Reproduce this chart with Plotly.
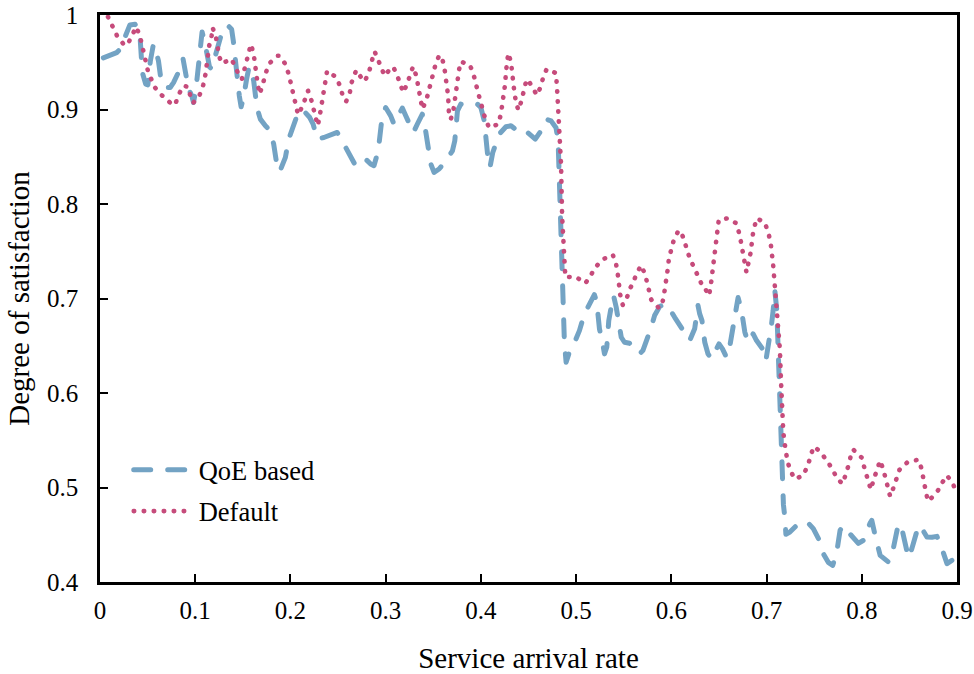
import plotly.graph_objects as go

# ---- data ----
qoe_x = [0.0035, 0.0122, 0.0175, 0.0211, 0.0245, 0.0284, 0.0314, 0.0368, 0.0396, 0.0421,
         0.0432, 0.0445, 0.048, 0.0503, 0.0529, 0.0561, 0.0585, 0.0614, 0.0642, 0.0684,
         0.0737, 0.0772, 0.0817, 0.0842, 0.0872, 0.0901, 0.0929, 0.0964, 0.0982, 0.1008,
         0.1029, 0.1051, 0.1072, 0.1101, 0.1122, 0.115, 0.1172, 0.1206, 0.1235, 0.1266,
         0.1295, 0.1347, 0.1382, 0.14, 0.1421, 0.1438, 0.1463, 0.1482, 0.1508, 0.154,
         0.1566, 0.1593, 0.1614, 0.1648, 0.1684, 0.1737, 0.1789, 0.1824, 0.1859, 0.1887,
         0.1947, 0.1982, 0.2027, 0.2087, 0.214, 0.2203, 0.2238, 0.228, 0.2351, 0.2438,
         0.2491, 0.2533, 0.2579, 0.2632, 0.2684, 0.2737, 0.2789, 0.2842, 0.2877, 0.2922,
         0.2947, 0.2964, 0.3, 0.3053, 0.3087, 0.314, 0.3175, 0.3211, 0.3245, 0.3291,
         0.3333, 0.3368, 0.3385, 0.3414, 0.3448, 0.3474, 0.3508, 0.3561, 0.3632, 0.3701,
         0.3726, 0.3754, 0.3789, 0.3877, 0.3964, 0.4, 0.4035, 0.4053, 0.4061, 0.4077,
         0.4095, 0.4124, 0.4193, 0.4263, 0.4316, 0.4382, 0.4445, 0.4508, 0.4571, 0.4632,
         0.4684, 0.4737, 0.4789, 0.4811, 0.4819, 0.4832, 0.4842, 0.4853, 0.4859, 0.4869,
         0.4877, 0.4895, 0.4929, 0.4992, 0.5035, 0.5087, 0.5122, 0.5158, 0.5192, 0.5217,
         0.5245, 0.5274, 0.5298, 0.5322, 0.5343, 0.5368, 0.5393, 0.5421, 0.5456, 0.5474,
         0.5508, 0.5561, 0.5614, 0.5666, 0.5701, 0.5737, 0.5789, 0.5824, 0.5877, 0.5929,
         0.5982, 0.6035, 0.6087, 0.614, 0.6193, 0.6245, 0.628, 0.6298, 0.6322, 0.6351,
         0.6385, 0.6421, 0.6466, 0.6501, 0.6537, 0.6579, 0.6606, 0.6648, 0.6674, 0.6701,
         0.6737, 0.6772, 0.6806, 0.6859, 0.6895, 0.6929, 0.6958, 0.6993, 0.7017, 0.7053,
         0.7069, 0.7087, 0.7108, 0.7119, 0.7129, 0.714, 0.7147, 0.7158, 0.7168, 0.7175,
         0.7177, 0.7193, 0.7203, 0.7245, 0.7316, 0.7385, 0.7438, 0.7491, 0.7526, 0.7551,
         0.7596, 0.7648, 0.7695, 0.7719, 0.7737, 0.7772, 0.7806, 0.7859, 0.7912, 0.7964,
         0.8017, 0.8053, 0.8087, 0.8105, 0.8122, 0.814, 0.8193, 0.8245, 0.828, 0.8316,
         0.8333, 0.8385, 0.8421, 0.8438, 0.849, 0.8526, 0.8543, 0.8596, 0.8632, 0.8684,
         0.8737, 0.8789, 0.8824, 0.8859, 0.8895, 0.8947, 0.9]
qoe_y = [0.9546, 0.9575, 0.9602, 0.9638, 0.9726, 0.985, 0.9895, 0.9903, 0.985, 0.9761,
         0.9515, 0.9391, 0.9268, 0.9261, 0.9515, 0.9691, 0.9628, 0.9515, 0.9303, 0.9233,
         0.9233, 0.9285, 0.938, 0.9409, 0.9536, 0.9374, 0.922, 0.9145, 0.9074, 0.922,
         0.9451, 0.9599, 0.9821, 0.9708, 0.962, 0.9451, 0.943, 0.955, 0.9673, 0.9797,
         0.9867, 0.9885, 0.985, 0.9726, 0.9497, 0.9356, 0.9145, 0.9028, 0.9127, 0.9324,
         0.9451, 0.9388, 0.9303, 0.9021, 0.8898, 0.8828, 0.8775, 0.8634, 0.8405, 0.8341,
         0.8493, 0.8687, 0.8828, 0.8986, 0.8986, 0.8915, 0.8846, 0.8687, 0.8704, 0.8746,
         0.8757, 0.8687, 0.8598, 0.8493, 0.8405, 0.844, 0.8476, 0.8423, 0.8405, 0.8563,
         0.8782, 0.8933, 0.9021, 0.8933, 0.8846, 0.8951, 0.9015, 0.8933, 0.8863, 0.8757,
         0.8846, 0.8933, 0.8951, 0.881, 0.86, 0.8423, 0.8334, 0.837, 0.8458, 0.8563,
         0.8669, 0.8986, 0.9057, 0.9039, 0.9057, 0.9021, 0.8881, 0.8704, 0.8563, 0.8458,
         0.8387, 0.8542, 0.874, 0.8817, 0.8828, 0.8775, 0.8796, 0.8733, 0.8687, 0.8775,
         0.8898, 0.888, 0.8807, 0.8669, 0.8405, 0.8035, 0.7665, 0.7277, 0.6907, 0.6748,
         0.6537, 0.6326, 0.6431, 0.6555, 0.666, 0.6837, 0.6907, 0.6978, 0.7041, 0.696,
         0.6679, 0.6555, 0.6414, 0.6484, 0.6766, 0.6907, 0.7031, 0.6907, 0.6679, 0.659,
         0.6537, 0.6526, 0.6484, 0.6414, 0.6449, 0.6537, 0.6695, 0.6819, 0.6914, 0.6943,
         0.689, 0.6801, 0.6713, 0.6626, 0.6555, 0.6679, 0.6925, 0.6837, 0.6766, 0.6537,
         0.6414, 0.6362, 0.6467, 0.652, 0.6467, 0.6378, 0.6449, 0.6695, 0.6837, 0.701,
         0.6872, 0.6643, 0.6537, 0.6626, 0.6555, 0.6502, 0.6467, 0.6343, 0.6484, 0.6731,
         0.6872, 0.7083, 0.6872, 0.6555, 0.6238, 0.5952, 0.5572, 0.5413, 0.5202, 0.5022,
         0.4821, 0.4673, 0.4504, 0.4528, 0.4599, 0.4645, 0.4624, 0.4564, 0.4494, 0.4448,
         0.43, 0.4208, 0.4176, 0.4247, 0.4317, 0.4547, 0.4599, 0.4528, 0.4462, 0.4409,
         0.4441, 0.4547, 0.4624, 0.4652, 0.4564, 0.4494, 0.4282, 0.4229, 0.4211, 0.4282,
         0.437, 0.4617, 0.4564, 0.4473, 0.4256, 0.4353, 0.442, 0.4599, 0.4564, 0.4476,
         0.4473, 0.4483, 0.4406, 0.4317, 0.4194, 0.4229, 0.4324]

default_x = [0.0084, 0.0126, 0.0179, 0.0245, 0.0287, 0.0333, 0.0382, 0.0421, 0.0445, 0.0463,
             0.0508, 0.0551, 0.0579, 0.0648, 0.0684, 0.0761, 0.0789, 0.0824, 0.0874, 0.0926,
             0.0951, 0.0979, 0.1045, 0.1084, 0.1108, 0.1119, 0.1137, 0.1147, 0.1172, 0.1182,
             0.1217, 0.1232, 0.1253, 0.128, 0.1379, 0.1427, 0.1469, 0.149, 0.1516, 0.1537,
             0.1561, 0.1585, 0.1614, 0.1632, 0.1642, 0.1656, 0.1677, 0.1701, 0.1726, 0.1761,
             0.1789, 0.1866, 0.1887, 0.1947, 0.1982, 0.2006, 0.2027, 0.2045, 0.208, 0.2129,
             0.2175, 0.2185, 0.2221, 0.2245, 0.2263, 0.2287, 0.2308, 0.2326, 0.234, 0.2351,
             0.2368, 0.2385, 0.2474, 0.2491, 0.2526, 0.2554, 0.2585, 0.2624, 0.2642, 0.2674,
             0.2691, 0.2743, 0.2779, 0.2824, 0.2845, 0.2869, 0.2884, 0.2922, 0.2954, 0.2989,
             0.3053, 0.308, 0.3129, 0.3158, 0.3185, 0.3227, 0.3256, 0.3287, 0.3322, 0.334,
             0.3351, 0.3375, 0.3385, 0.3427, 0.3456, 0.3474, 0.3498, 0.3526, 0.3561, 0.3585,
             0.3614, 0.3632, 0.3642, 0.3656, 0.3666, 0.3684, 0.3712, 0.3726, 0.3737, 0.3754,
             0.3772, 0.3789, 0.3884, 0.3922, 0.3954, 0.3975, 0.3989, 0.4017, 0.4045, 0.4087,
             0.4185, 0.4211, 0.4227, 0.4238, 0.4256, 0.4262, 0.427, 0.4287, 0.4316, 0.4326,
             0.434, 0.4351, 0.4368, 0.4393, 0.4424, 0.4445, 0.4474, 0.4491, 0.4543, 0.4589,
             0.4632, 0.4656, 0.4691, 0.4789, 0.4803, 0.4817, 0.4832, 0.4842, 0.4853, 0.4869,
             0.4887, 0.4992, 0.5097, 0.5158, 0.5192, 0.5256, 0.5291, 0.5385, 0.5421, 0.5438,
             0.5448, 0.5463, 0.549, 0.5537, 0.5572, 0.5596, 0.5632, 0.5684, 0.5726, 0.5747,
             0.5772, 0.5789, 0.5863, 0.5895, 0.5919, 0.5937, 0.5954, 0.5964, 0.5975, 0.6,
             0.6024, 0.6069, 0.6098, 0.6133, 0.6164, 0.6193, 0.6238, 0.628, 0.6298, 0.6333,
             0.6351, 0.6396, 0.6414, 0.6427, 0.6438, 0.6448, 0.6463, 0.6474, 0.6498, 0.6589,
             0.6684, 0.6719, 0.6737, 0.6754, 0.6772, 0.6789, 0.6832, 0.6848, 0.6859, 0.6895,
             0.6982, 0.7024, 0.7045, 0.7069, 0.7087, 0.7105, 0.7122, 0.714, 0.7151, 0.7158,
             0.7164, 0.7175, 0.7185, 0.72, 0.7217, 0.7245, 0.7298, 0.7385, 0.7438, 0.7466,
             0.7498, 0.7568, 0.7596, 0.7656, 0.7701, 0.7747, 0.78, 0.7832, 0.7866, 0.7895,
             0.7912, 0.7975, 0.8, 0.8027, 0.8053, 0.8077, 0.8095, 0.8122, 0.8158, 0.8193,
             0.8227, 0.8256, 0.8274, 0.8298, 0.8333, 0.8368, 0.8396, 0.8474, 0.8501, 0.8596,
             0.8632, 0.8648, 0.8666, 0.8691, 0.8701, 0.8771, 0.88, 0.8848, 0.8895, 0.8958,
             0.8993]
default_y = [0.998, 0.988, 0.978, 0.9694, 0.968, 0.978, 0.9874, 0.977, 0.966, 0.9557,
             0.9388, 0.9293, 0.923, 0.9152, 0.912, 0.905, 0.905, 0.9152, 0.925, 0.924,
             0.9134, 0.907, 0.915, 0.926, 0.9374, 0.947, 0.9568, 0.9676, 0.978, 0.9867,
             0.977, 0.9663, 0.9557, 0.9486, 0.9536, 0.9438, 0.9338, 0.9321, 0.9423, 0.9528,
             0.9634, 0.9691, 0.9586, 0.9483, 0.9374, 0.9268, 0.9163, 0.924, 0.9338, 0.9451,
             0.9497, 0.9568, 0.9568, 0.948, 0.9374, 0.9268, 0.9155, 0.905, 0.8944, 0.904,
             0.9163, 0.9198, 0.9092, 0.8986, 0.888, 0.8828, 0.8933, 0.9039, 0.9145, 0.925,
             0.9356, 0.9409, 0.9346, 0.9321, 0.9232, 0.9127, 0.9085, 0.918, 0.9285, 0.9391,
             0.9416, 0.9338, 0.9296, 0.9391, 0.9497, 0.9568, 0.9613, 0.9522, 0.942, 0.9356,
             0.9438, 0.9451, 0.9338, 0.924, 0.918, 0.9275, 0.938, 0.9454, 0.9356, 0.925,
             0.9137, 0.9039, 0.9004, 0.9099, 0.9205, 0.931, 0.9391, 0.9486, 0.9568, 0.9568,
             0.9462, 0.9356, 0.925, 0.9145, 0.8923, 0.8898, 0.8997, 0.911, 0.9216, 0.9321,
             0.9427, 0.9507, 0.9472, 0.9374, 0.9268, 0.9163, 0.911, 0.901, 0.8905, 0.8807,
             0.8846, 0.8958, 0.9063, 0.9173, 0.9279, 0.9385, 0.949, 0.9596, 0.9504, 0.9398,
             0.9293, 0.9187, 0.9081, 0.8993, 0.9085, 0.919, 0.9296, 0.9321, 0.9232, 0.9152,
             0.925, 0.9349, 0.9427, 0.9385, 0.917, 0.8951, 0.8733, 0.8415, 0.7876, 0.7551,
             0.7225, 0.7232, 0.7161, 0.725, 0.7317, 0.739, 0.7419, 0.7464, 0.7358, 0.7253,
             0.7147, 0.7041, 0.6932, 0.702, 0.7118, 0.7154, 0.726, 0.7351, 0.725, 0.7144,
             0.7041, 0.6988, 0.6907, 0.6907, 0.7013, 0.7112, 0.7218, 0.7323, 0.7425, 0.7514,
             0.7612, 0.7707, 0.7718, 0.762, 0.752, 0.7425, 0.733, 0.7231, 0.7213, 0.7118,
             0.7112, 0.703, 0.7136, 0.7249, 0.7355, 0.7461, 0.7566, 0.7672, 0.7831, 0.7848,
             0.7795, 0.7665, 0.7559, 0.7453, 0.7348, 0.7277, 0.7482, 0.7588, 0.77, 0.7848,
             0.7805, 0.7675, 0.757, 0.7358, 0.7147, 0.6935, 0.6724, 0.646, 0.6143, 0.592,
             0.5814, 0.5603, 0.5498, 0.54, 0.5294, 0.5187, 0.5089, 0.5128, 0.5244, 0.535,
             0.5434, 0.5374, 0.5339, 0.5251, 0.5173, 0.5086, 0.504, 0.5138, 0.5251, 0.5385,
             0.54, 0.5339, 0.5315, 0.5209, 0.5103, 0.5004, 0.4977, 0.5075, 0.5181, 0.5286,
             0.5188, 0.5082, 0.498, 0.4906, 0.4998, 0.5099, 0.5188, 0.5262, 0.5276, 0.5294,
             0.5187, 0.5082, 0.4976, 0.4871, 0.4853, 0.4924, 0.4969, 0.5057, 0.5128, 0.504,
             0.4941]

x_ticks = [0, 0.1, 0.2, 0.3, 0.4, 0.5, 0.6, 0.7, 0.8, 0.9]
x_tick_labels = ["0", "0.1", "0.2", "0.3", "0.4", "0.5", "0.6", "0.7", "0.8", "0.9"]
y_ticks = [0.4, 0.5, 0.6, 0.7, 0.8, 0.9, 1.0]
y_tick_labels = ["0.4", "0.5", "0.6", "0.7", "0.8", "0.9", "1"]

FONT = "Liberation Serif, Times New Roman, serif"
BLUE = "#73a3c4"
PINK = "#c64b7b"

fig = go.Figure()
fig.add_trace(go.Scatter(x=qoe_x, y=qoe_y, mode="lines", name="QoE based", legendgroup="a",
                         line=dict(color=BLUE, width=5, dash="17px,17px")))
fig.add_trace(go.Scatter(x=default_x, y=default_y, mode="lines", name="Default", legendgroup="b",
                         line=dict(color=PINK, width=4.6, dash="0.5px,9.5px")))

axis_common = dict(showgrid=False, zeroline=False, showline=True, linecolor="black",
                   linewidth=2.5, mirror=True, ticks="inside", ticklen=8, tickwidth=2,
                   tickcolor="black", automargin=False,
                   tickfont=dict(family=FONT, size=25, color="black"))

fig.update_xaxes(range=[0, 0.9], tickvals=x_ticks, ticktext=x_tick_labels,
                 title=dict(text="Service arrival rate", font=dict(family=FONT, size=29, color="black"),
                            standoff=26),
                 ticklabelstandoff=4, **axis_common)
fig.update_yaxes(range=[0.4, 1.0], tickvals=y_ticks, ticktext=y_tick_labels,
                 title=dict(text="Degree of satisfaction", font=dict(family=FONT, size=29, color="black"),
                            standoff=9),
                 ticklabelstandoff=14, **axis_common)

fig.update_layout(
    width=974, height=674,
    margin=dict(l=100, r=17, t=15, b=92),
    paper_bgcolor="white", plot_bgcolor="white",
    font=dict(family=FONT, size=25, color="black"),
    showlegend=True,
    legend=dict(x=0.0335, y=0.24, xanchor="left", yanchor="top",
                bgcolor="rgba(0,0,0,0)", itemwidth=60, tracegroupgap=4,
                font=dict(family=FONT, size=26.5, color="black")),
)

post = ("var s=document.createElement('style');"
        "s.innerHTML='html,body{margin:0 !important;padding:0 !important;}"
        ".js-line{stroke-linecap:round !important;stroke-linejoin:round !important;}';"
        "document.head.appendChild(s);")
fig.write_html("out.html", post_script=post, config={"displayModeBar": False})
